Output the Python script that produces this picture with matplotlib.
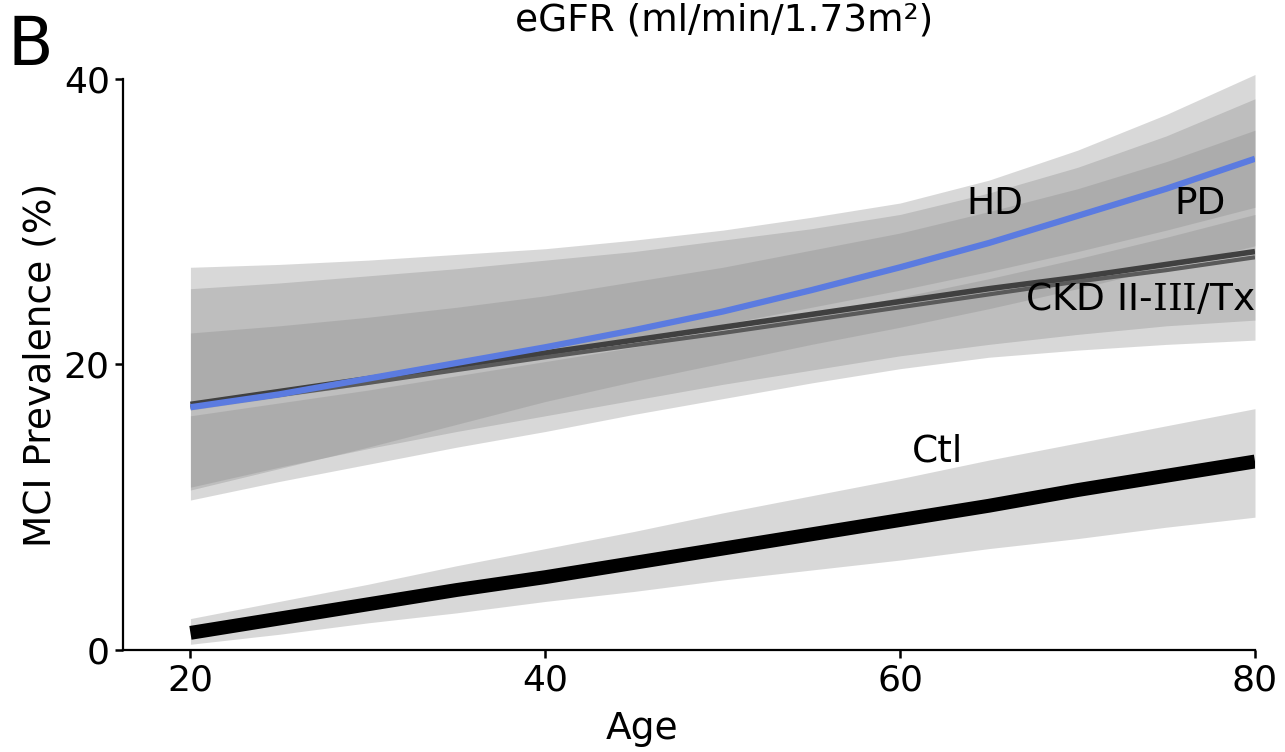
import matplotlib
matplotlib.use('Agg')
import matplotlib.pyplot as plt
import numpy as np

plt.rcParams['mathtext.fontset'] = 'dejavuserif'

# Age grid and fitted curves
ages = [20, 25, 30, 35, 40, 45, 50, 55, 60, 65, 70, 75, 80]

ctl_mid = [1.2, 2.2, 3.2, 4.2, 5.1, 6.1, 7.1, 8.1, 9.1, 10.1, 11.2, 12.2, 13.2]
ctl_lo = [0.4, 1.1, 1.9, 2.6, 3.4, 4.1, 4.9, 5.6, 6.3, 7.1, 7.8, 8.6, 9.3]
ctl_hi = [2.2, 3.4, 4.6, 5.9, 7.1, 8.3, 9.6, 10.8, 12.0, 13.3, 14.5, 15.7, 16.9]

pd_mid = [17.0, 17.9, 19.0, 20.1, 21.2, 22.4, 23.7, 25.2, 26.8, 28.5, 30.4, 32.3, 34.4]
pd_lo = [11.2, 12.7, 14.2, 15.8, 17.4, 18.8, 20.1, 21.4, 22.6, 23.9, 25.3, 26.8, 28.3]
pd_hi = [26.8, 27.0, 27.3, 27.7, 28.1, 28.7, 29.4, 30.3, 31.3, 32.9, 35.0, 37.5, 40.3]

hd_lo = [11.4, 12.8, 14.1, 15.3, 16.4, 17.5, 18.6, 19.6, 20.6, 21.4, 22.1, 22.7, 23.1]
hd_hi = [25.3, 25.7, 26.2, 26.7, 27.3, 27.9, 28.7, 29.5, 30.5, 32.0, 33.8, 36.0, 38.6]

tx_mid = [17.0, 17.85, 18.7, 19.6, 20.5, 21.35, 22.2, 23.1, 24.0, 24.9, 25.8, 26.6, 27.5]
tx_lo = [16.8, 17.7, 18.6, 19.6, 20.6, 21.7, 22.8, 24.0, 25.2, 26.5, 27.9, 29.4, 31.0]
tx_hi = [22.2, 22.7, 23.3, 24.0, 24.8, 25.8, 26.8, 28.0, 29.2, 30.7, 32.3, 34.2, 36.4]

ckd_mid = [17.2, 18.1, 19.0, 19.9, 20.8, 21.7, 22.6, 23.5, 24.4, 25.3, 26.1, 27.0, 27.9]
ckd_lo = [10.5, 11.8, 13.0, 14.2, 15.3, 16.5, 17.6, 18.7, 19.7, 20.5, 21.0, 21.4, 21.7]
ckd_hi = [16.4, 17.3, 18.2, 19.2, 20.2, 21.2, 22.3, 23.5, 24.7, 26.0, 27.4, 28.9, 30.5]

x_ticks = [20, 40, 60, 80]
y_ticks = [0, 20, 40]

fig = plt.figure(figsize=(12.85, 7.52), dpi=100)
ax = fig.add_axes([123/1285, 102/752, 1132/1285, 585.5/752])

band_kw = dict(color='#888888', alpha=0.32, linewidth=0)
for lo, hi in [(pd_lo, pd_hi), (hd_lo, hd_hi), (tx_lo, tx_hi), (ckd_lo, ckd_hi), (ctl_lo, ctl_hi)]:
    ax.fill_between(ages, lo, hi, **band_kw)

ax.plot(ages, ckd_mid, color='#404040', lw=4, solid_capstyle='butt')
ax.plot(ages, tx_mid, color='#5a5a5a', lw=3, solid_capstyle='butt')
ax.plot(ages, pd_mid, color='#5b7be0', lw=4.5, solid_capstyle='butt')
ax.plot(ages, ctl_mid, color='black', lw=10, solid_capstyle='butt')

ax.text(65.35, 31.2, 'HD', fontsize=27, ha='center', va='center')
ax.text(76.9, 31.2, 'PD', fontsize=27, ha='center', va='center')
ax.text(73.5, 24.5, r'CKD II-$\mathrm{III}$/Tx', fontsize=27, ha='center', va='center')
ax.text(62.1, 13.9, 'Ctl', fontsize=27, ha='center', va='center')

ax.set_xlim(16.2, 80)
ax.set_ylim(0, 41)
ax.spines['top'].set_visible(False)
ax.spines['right'].set_visible(False)
ax.spines['left'].set_bounds(0, 40)
for s in ['left', 'bottom']:
    ax.spines[s].set_linewidth(1.6)
ax.set_xticks(x_ticks)
ax.set_yticks(y_ticks)
ax.tick_params(labelsize=26, length=6, width=1.8)

ax.set_xlabel('Age', fontsize=27)
ax.set_ylabel('MCI Prevalence (%)', fontsize=27)
ax.xaxis.set_label_coords(0.4585, -0.104)
ax.yaxis.set_label_coords(-0.057, 0.487)

fig.text(724/1285, 1 - 20/752, 'eGFR (ml/min/1.73m\u00b2)', fontsize=27, ha='center', va='center')
fig.text(8/1285, 1 - 65/752, 'B', fontsize=48, ha='left', va='baseline')

fig.savefig('out.png', dpi=100)
